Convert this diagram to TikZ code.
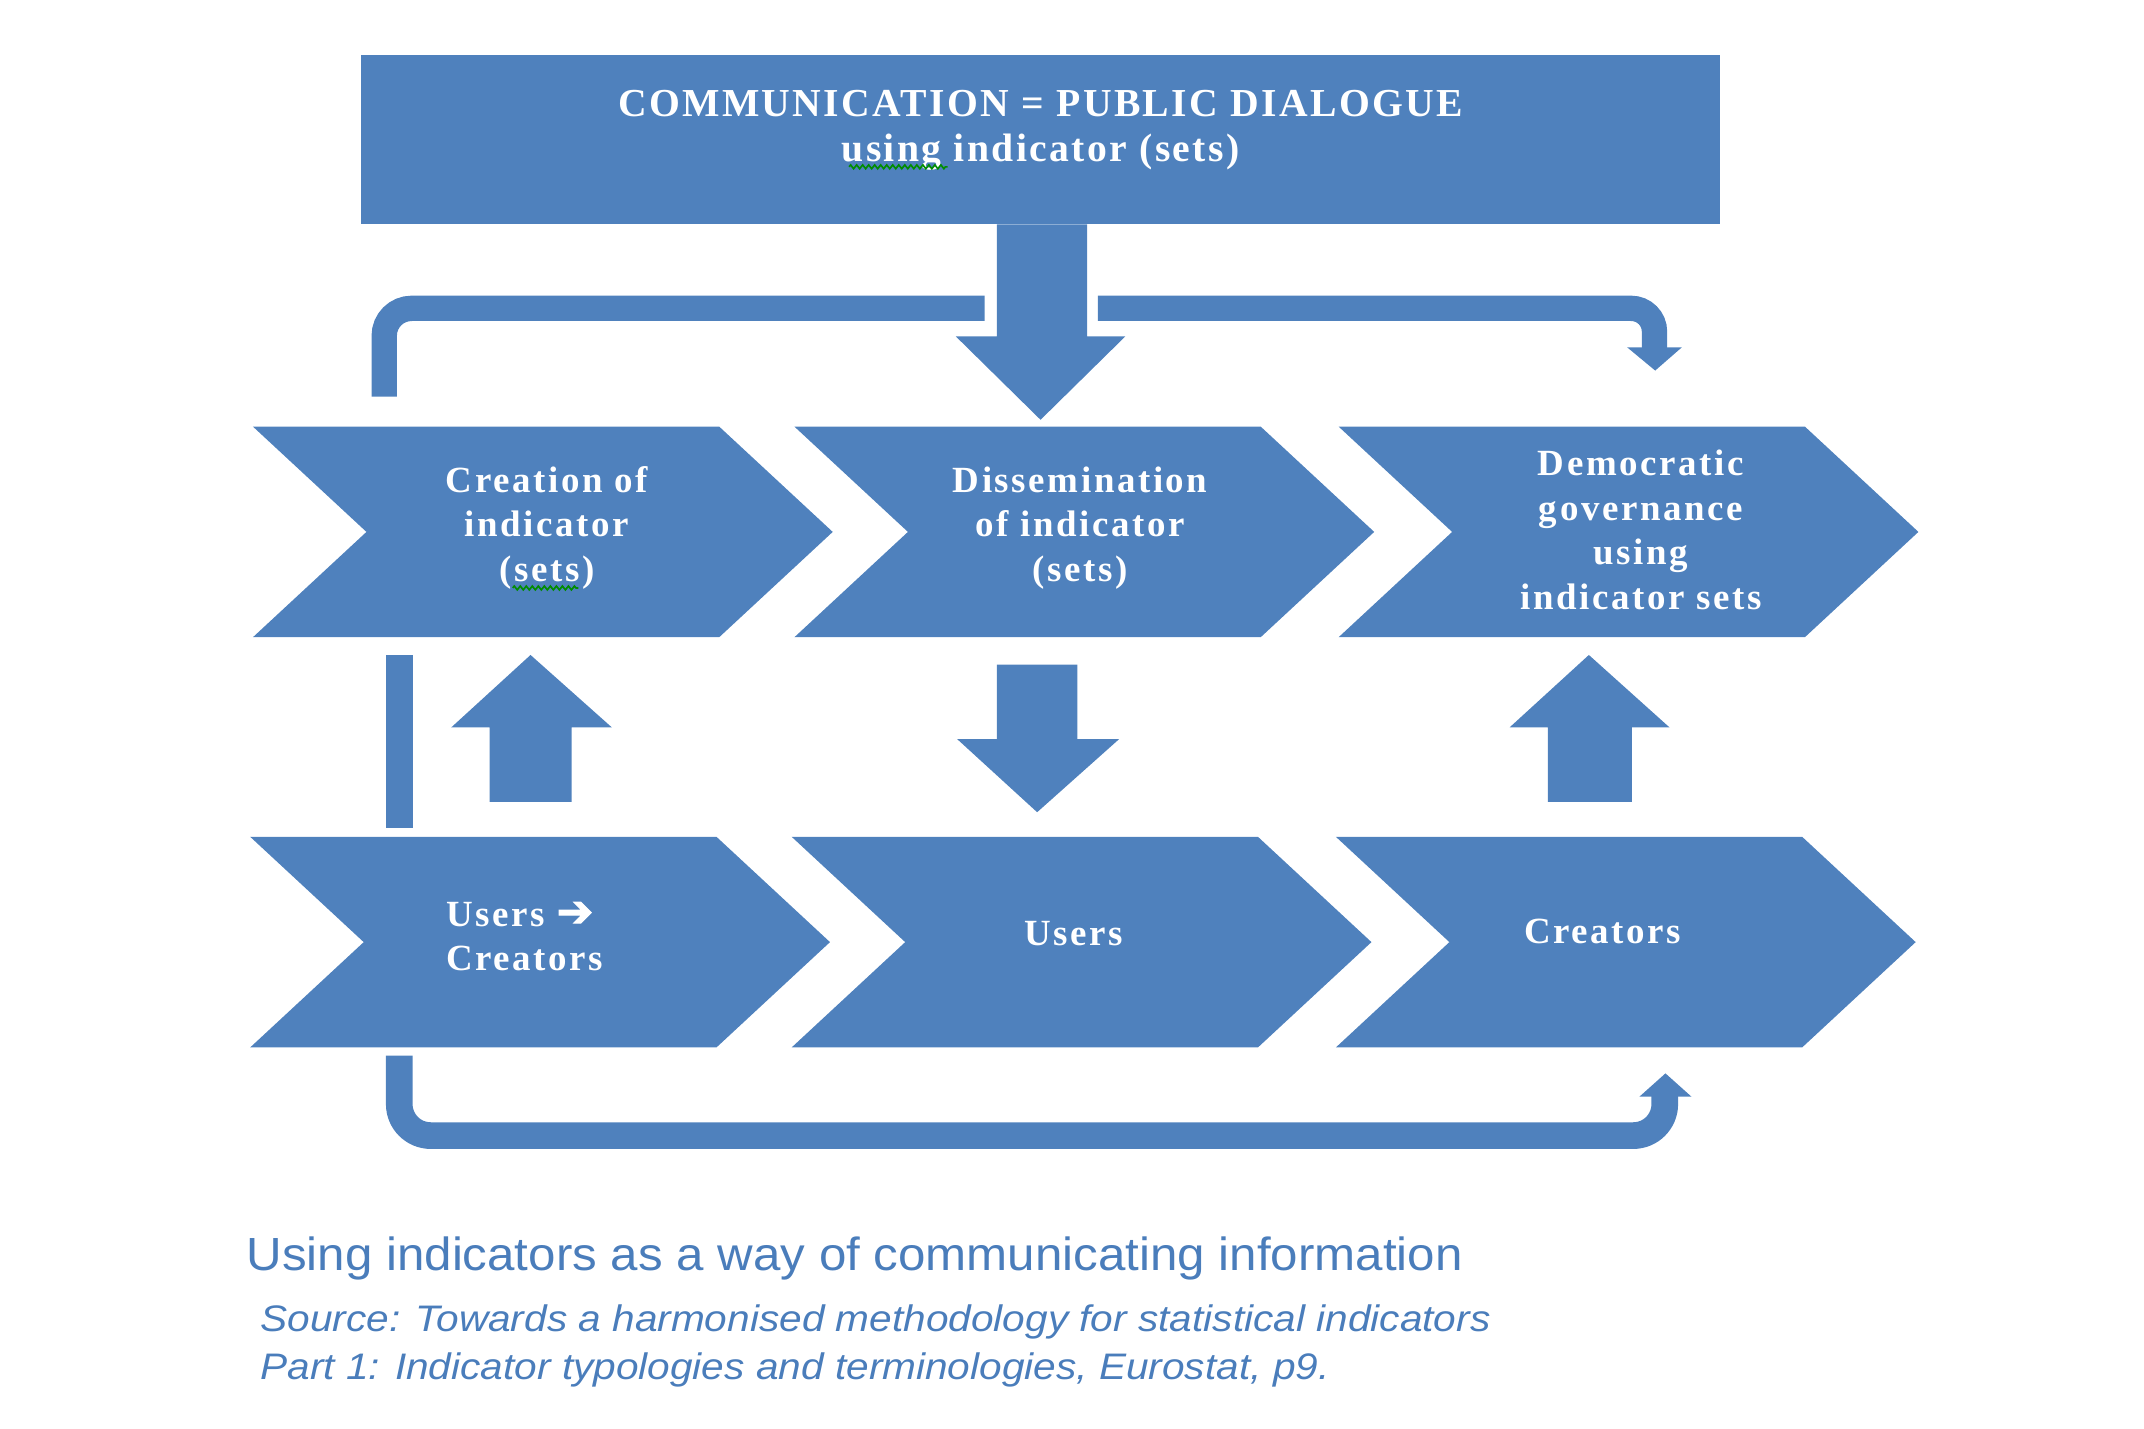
\documentclass[tikz,border=0pt]{standalone}
\usepackage{fontspec}
\setmainfont{Liberation Serif}
\newfontfamily\boxfont[LetterSpace=7]{Liberation Serif}
\newfontfamily\topfont[LetterSpace=6]{Liberation Serif}
\newfontfamily\capfont[FakeStretch=1.06]{Liberation Sans}
\newfontfamily\srcfont[FakeStretch=1.1]{Liberation Sans}
\newfontfamily\symfont[FakeBold=2.5]{DejaVu Sans}
\usetikzlibrary{calc,decorations.pathmorphing}
\definecolor{oblue}{RGB}{79,129,189}
\definecolor{capblue}{RGB}{74,125,187}
\newcommand{\chevshape}[3]{%
  \fill[oblue] (#1,#2) -- ++(341,0) -- ++(83,77) -- ++(-83,77) -- ++(-341,0) -- ++(83,-77) -- cycle;
  \coordinate (#3) at ($(#1,#2)+(212,77)$);}
\begin{document}
\begin{tikzpicture}[x=0.5pt,y=-0.5pt,
  boxtext/.style={text=white, font=\boxfont\bfseries\fontsize{13.5}{16.25}\selectfont, align=center, inner sep=0pt},
  bandline/.style={draw=oblue, line width=9.25pt},
  captext/.style={anchor=base west, inner sep=0pt, text=capblue},
  squig/.style={draw=green!55!black, line width=0.6pt, decorate, decoration={zigzag, segment length=2.2pt, amplitude=0.7pt}}]
\useasboundingbox (0,0) rectangle (1568,1045);

% top box
\node[name=topbox, fill=oblue, minimum width=497pt, minimum height=62pt, inner sep=0pt] at (761,102) {};
\node[name=toptext, text=white, font=\topfont\bfseries\fontsize{14.5}{16.5}\selectfont, align=center, inner sep=0pt] at (761,95.5)
  {COMMUNICATION = PUBLIC DIALOGUE\\using indicator (sets)};
\draw[squig] (621,122) -- (693,122);

% chevrons
\chevshape{185}{312}{c1}
\chevshape{581}{312}{c2}
\chevshape{979}{312}{c3}
\chevshape{183}{612}{d1}
\chevshape{579}{612}{d2}
\chevshape{977}{612}{d3}

\node[boxtext, name=t1] at (400,386) {Creation of\\indicator\\(sets)};
\draw[squig] (375,430) -- (423,430);
\node[boxtext, name=t2] at (790,386) {Dissemination\\of indicator\\(sets)};
\node[boxtext, name=t3] at (1200,387.5) {Democratic\\governance\\using\\indicator sets};
\node[boxtext, name=u1, align=left, anchor=west] at (326,685) {Users {\symfont\fontsize{16}{16}\selectfont ➔}\\Creators};
\node[boxtext, name=u2] at (785,683) {Users};
\node[boxtext, name=u3] at (1172,681) {Creators};

% big down arrow from top box
\fill[oblue] (729,164) -- (795,164) -- (795,246) -- (823,246) -- (761,307) -- (699,246) -- (729,246) -- cycle;

% upper bracket connector
\draw[bandline, rounded corners=10pt] (281,290) -- (281,225.5) -- (720,225.5);
\draw[bandline, rounded corners=8.5pt] (803,225.5) -- (1210,225.5) -- (1210,254.5);
\fill[oblue] (1190,254) -- (1230,254) -- (1210.5,271) -- cycle;

% arrows between rows
\fill[oblue] (282,479) rectangle (302,605.5);
\fill[oblue] (358,586.5) -- (358,532) -- (330,532) -- (388,479) -- (447.5,532) -- (418,532) -- (418,586.5) -- cycle;
\fill[oblue] (729,486) -- (788,486) -- (788,540.5) -- (818.5,540.5) -- (758.5,594) -- (700,540.5) -- (729,540.5) -- cycle;
\fill[oblue] (1132,586.5) -- (1132,532) -- (1104,532) -- (1162,479) -- (1221,532) -- (1193.5,532) -- (1193.5,586.5) -- cycle;

% lower loop connector
\draw[bandline, line width=9.75pt, rounded corners=11.5pt] (292,772) -- (292,830.5) -- (1217.5,830.5) -- (1217.5,801.5);
\fill[oblue] (1199,802) -- (1237,802) -- (1218,785) -- cycle;

% caption
\node[captext, name=cap1, font=\capfont\fontsize{17}{20}\selectfont] at (180,929)
  {Using indicators as a way of communicating information};
\node[captext, name=cap2, font=\srcfont\itshape\fontsize{13.5}{17.5}\selectfont] at (190,974)
  {Source: Towards a harmonised methodology for statistical indicators};
\node[captext, name=cap3, font=\srcfont\itshape\fontsize{13.5}{17.5}\selectfont] at (190,1009)
  {Part 1: Indicator typologies and terminologies, Eurostat, p9.};
\end{tikzpicture}
\end{document}
